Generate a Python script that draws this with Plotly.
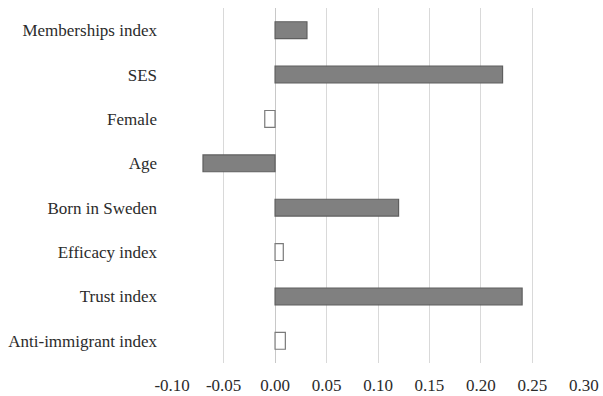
import plotly.graph_objects as go

categories = ["Memberships index", "SES", "Female", "Age", "Born in Sweden",
              "Efficacy index", "Trust index", "Anti-immigrant index"]
values = [0.031, 0.221, -0.010, -0.070, 0.120, 0.008, 0.240, 0.010]
significant = [True, True, False, True, True, False, True, False]
tick_vals = [-0.10, -0.05, 0.00, 0.05, 0.10, 0.15, 0.20, 0.25, 0.30]
tick_text = ["-0.10", "-0.05", "0.00", "0.05", "0.10", "0.15", "0.20", "0.25", "0.30"]

fill = ["#808080" if s else "#ffffff" for s in significant]
edge = ["#5f5f5f" if s else "#7a7a7a" for s in significant]

fig = go.Figure(go.Bar(
    x=values, y=categories, orientation="h",
    marker=dict(color=fill, line=dict(color=edge, width=1.2)),
    width=0.38,
))

fig.update_layout(
    width=603, height=396,
    margin=dict(l=172, r=19, t=8, b=33, autoexpand=False),
    paper_bgcolor="white", plot_bgcolor="white",
    font=dict(family="'Times New Roman', 'Liberation Serif', 'DejaVu Serif', serif",
              size=17, color="#2b2b2b"),
    showlegend=False,
    bargap=0.62,
)
fig.update_xaxes(
    range=[-0.1001, 0.3001], tickvals=tick_vals, ticktext=tick_text,
    showgrid=True, gridcolor="#d9d9d9", gridwidth=1,
    zeroline=True, zerolinecolor="#c8c8c8", zerolinewidth=1,
    showline=False, ticks="", ticklabelstandoff=10, automargin=False,
)
fig.update_yaxes(
    categoryorder="array", categoryarray=categories, autorange="reversed",
    showgrid=False, zeroline=False, showline=False, ticks="",
    ticklabelstandoff=14, automargin=False,
)

fig.write_html("out.html", config={"displayModeBar": False},
               post_script="document.body.style.margin='0';document.body.style.padding='0';")
